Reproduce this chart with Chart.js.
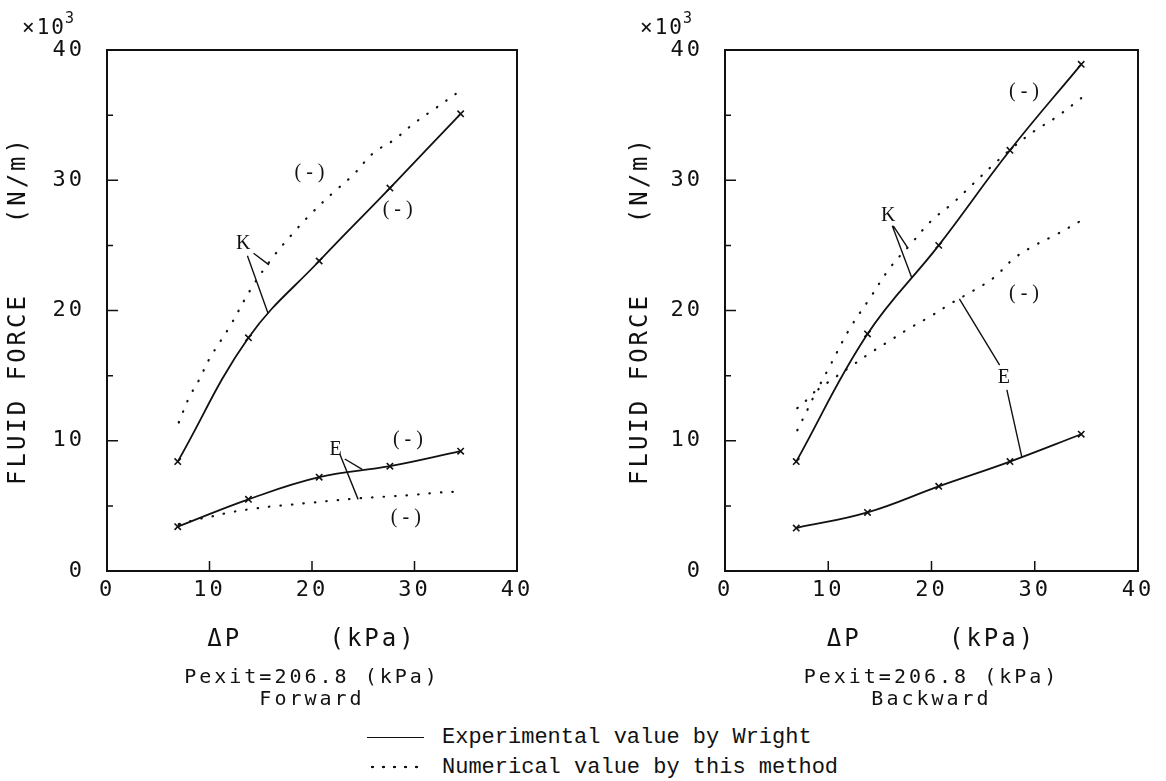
<!DOCTYPE html>
<html>
<head>
<meta charset="utf-8">
<script src="https://cdn.jsdelivr.net/npm/chart.js@4.4.1/dist/chart.umd.min.js"></script>
<style>
  html, body { margin: 0; padding: 0; background: #fff; }
  body { width: 1166px; height: 781px; position: relative; overflow: hidden; }
  canvas { position: absolute; top: 0; }
  #fwd { left: 0; }
  #bwd { left: 560px; }
  .row { position: absolute; left: 367px; height: 26px; line-height: 26px;
         font: 22px 'Liberation Mono', monospace; color: #111; white-space: nowrap; }
  .solid { display: inline-block; width: 57px; border-top: 1.8px solid #111;
           vertical-align: middle; margin-right: 18px; }
  .dots { display: inline-block; width: 57px; height: 4px; vertical-align: middle; margin-right: 18px;
          background-image: radial-gradient(circle, #111 1.1px, transparent 1.6px);
          background-size: 11px 4px; }
</style>
</head>
<body>
<canvas id="fwd" width="560" height="725"></canvas>
<canvas id="bwd" width="606" height="725"></canvas>
<div class="row" style="top:725px"><span class="solid"></span>Experimental value by Wright</div>
<div class="row" style="top:755px"><span class="dots"></span>Numerical value by this method</div>
<script>
// pressure difference (kPa) of Wright's measurements and of the computed curves
const dpExp = [6.9, 13.8, 20.7, 27.6, 34.5];
const dpNum = [7, 8, 9, 10, 12, 14, 16, 18, 20, 22, 24, 26, 28, 30, 32, 34.5];

// forward whirl (x10^3 N/m)
const kExpFwd = [8.4, 17.9, 23.8, 29.4, 35.1];
const eExpFwd = [3.4, 5.5, 7.2, 8.05, 9.2];
const kNumFwd = [11.4, 13.3, 14.7, 16.3, 18.8, 21.6, 23.9, 25.8, 27.5, 29.0, 30.4, 32.1, 33.1, 34.4, 35.5, 36.9];
const eNumFwd = [3.6, 3.8, 4.0, 4.15, 4.5, 4.75, 4.95, 5.1, 5.25, 5.4, 5.55, 5.65, 5.75, 5.85, 6.0, 6.1];

// backward whirl (x10^3 N/m)
const kExpBwd = [8.4, 18.2, 25.0, 32.3, 38.9];
const eExpBwd = [3.3, 4.5, 6.5, 8.4, 10.5];
const kNumBwd = [12.5, 13.2, 14.1, 15.5, 18.5, 20.9, 23.3, 25.1, 26.9, 28.2, 29.7, 31.2, 32.6, 33.8, 34.8, 36.3];
const eNumBwd = [10.8, 12.4, 13.9, 14.5, 15.6, 16.7, 17.7, 18.7, 19.6, 20.6, 21.5, 22.5, 24.0, 25.0, 25.8, 26.9];

// axis ticks
const forceTicks = [0, 5, 10, 15, 20, 25, 30, 35, 40];
const forceLabels = [0, 10, 20, 30, 40];
const dpTicks = [0, 10, 20, 30, 40];

// curve labels, in data units
const notesFwd = {
  texts: [
    { x: 20.0, y: 30.6, t: '(-)' }, { x: 28.6, y: 27.7, t: '(-)' },
    { x: 29.6, y: 10.1, t: '(-)' }, { x: 29.4, y: 4.1, t: '(-)' },
    { x: 13.3, y: 25.1, t: 'K' }, { x: 22.3, y: 9.3, t: 'E' }
  ],
  lines: [
    [14.3, 24.4, 15.8, 23.5], [13.7, 24.2, 15.7, 19.8],
    [23.2, 8.6, 24.9, 7.8], [22.7, 9.0, 24.5, 5.5]
  ]
};
const notesBwd = {
  texts: [
    { x: 29.2, y: 36.8, t: '(-)' }, { x: 29.2, y: 21.3, t: '(-)' },
    { x: 15.8, y: 27.3, t: 'K' }, { x: 27.0, y: 14.8, t: 'E' }
  ],
  lines: [
    [16.3, 26.5, 17.7, 24.8], [16.2, 26.5, 18.1, 22.5],
    [22.7, 20.9, 26.6, 15.8], [27.3, 13.9, 28.75, 8.75]
  ]
};

const INK = '#111';
Chart.defaults.font.family = "'DejaVu Sans Mono', monospace";
Chart.defaults.color = INK;

const pts = (xs, ys) => xs.map((x, i) => ({ x, y: ys[i] }));

function expSet(ys) {
  return {
    data: pts(dpExp, ys), borderColor: INK, borderWidth: 1.8,
    pointStyle: 'crossRot', pointRadius: 4.5, pointBorderWidth: 1.6, pointBorderColor: INK,
    tension: 0.4, fill: false
  };
}
function numSet(ys) {
  return {
    data: pts(dpNum, ys), borderColor: INK, borderWidth: 2.2,
    borderDash: [0.5, 11], borderCapStyle: 'round', pointRadius: 0,
    tension: 0.4, fill: false
  };
}

// box, inward ticks, x10^3 and curve labels
const framePlugin = {
  id: 'frame',
  beforeDraw(chart) {
    chart.ctx.letterSpacing = '3px';
  },
  beforeDatasetsDraw(chart) {
    const { ctx, chartArea: a, scales: { x, y } } = chart;
    ctx.save();
    ctx.strokeStyle = INK;
    ctx.lineWidth = 2;
    ctx.strokeRect(a.left, a.top, a.right - a.left, a.bottom - a.top);
    ctx.lineWidth = 1.5;
    ctx.beginPath();
    y.ticks.forEach(t => {
      const py = y.getPixelForValue(t.value);
      const len = forceLabels.includes(t.value) ? 11 : 6;
      ctx.moveTo(a.left, py); ctx.lineTo(a.left + len, py);
    });
    x.ticks.forEach(t => {
      if (t.value <= x.min || t.value >= x.max) return;
      const px = x.getPixelForValue(t.value);
      ctx.moveTo(px, a.bottom); ctx.lineTo(px, a.bottom - 10);
    });
    ctx.stroke();
    ctx.restore();
  },
  afterDraw(chart, args, opts) {
    const { ctx, chartArea: a, scales: { x, y } } = chart;
    ctx.save();
    ctx.fillStyle = INK;
    ctx.strokeStyle = INK;
    // exponent
    ctx.letterSpacing = '2px';
    ctx.textBaseline = 'middle';
    ctx.textAlign = 'left';
    ctx.font = "21px 'DejaVu Sans Mono'";
    const x0 = a.left - 85;
    ctx.fillText('×10', x0, a.top - 21);
    const w = ctx.measureText('×10').width;
    ctx.font = "15px 'DejaVu Sans Mono'";
    ctx.fillText('3', x0 + w - 1, a.top - 31);
    // curve labels
    ctx.textAlign = 'center';
    ctx.font = "20px 'Liberation Serif'";
    (opts.texts || []).forEach(n => {
      ctx.letterSpacing = n.t === '(-)' ? '5px' : '0px';
      ctx.fillText(n.t, x.getPixelForValue(n.x), y.getPixelForValue(n.y));
    });
    ctx.lineWidth = 1.4;
    ctx.beginPath();
    (opts.lines || []).forEach(l => {
      ctx.moveTo(x.getPixelForValue(l[0]), y.getPixelForValue(l[1]));
      ctx.lineTo(x.getPixelForValue(l[2]), y.getPixelForValue(l[3]));
    });
    ctx.stroke();
    ctx.restore();
  }
};

function makeChart(id, kExp, eExp, kNum, eNum, label, notes, pad, yWidth) {
  return new Chart(document.getElementById(id), {
    type: 'line',
    data: { datasets: [expSet(kExp), expSet(eExp), numSet(kNum), numSet(eNum)] },
    options: {
      responsive: false,
      animation: false,
      devicePixelRatio: 1,
      layout: { padding: pad },
      scales: {
        x: {
          type: 'linear', min: 0, max: 40,
          afterBuildTicks: s => { s.ticks = dpTicks.map(v => ({ value: v })); },
          afterFit: s => { s.height = 87; },
          grid: { display: false, drawTicks: false },
          border: { display: false },
          ticks: { padding: 6, font: { size: 22 }, autoSkip: false, maxRotation: 0 },
          title: { display: true, text: 'ΔP     (kPa)', font: { size: 24 }, padding: { top: 4, bottom: 4 } }
        },
        y: {
          type: 'linear', min: 0, max: 40,
          afterBuildTicks: s => { s.ticks = forceTicks.map(v => ({ value: v })); },
          afterFit: s => { s.width = yWidth; },
          grid: { display: false, drawTicks: false },
          border: { display: false },
          ticks: {
            padding: 22, font: { size: 22 }, autoSkip: false,
            callback: v => forceLabels.includes(v) ? String(v) : ''
          },
          title: { display: true, text: 'FLUID FORCE    (N/m)', font: { size: 24 }, padding: { top: 4, bottom: 4 } }
        }
      },
      plugins: {
        legend: { display: false },
        tooltip: { enabled: false },
        title: {
          display: true, text: 'Pexit=206.8 (kPa)', position: 'bottom', fullSize: false, weight: 1000,
          font: { size: 20, weight: 'normal', lineHeight: 1.1 }, padding: { top: 9, bottom: 0 }, color: INK
        },
        subtitle: {
          display: true, text: label, position: 'bottom', fullSize: false,
          font: { size: 20, weight: 'normal', lineHeight: 1.1 }, padding: { top: 0, bottom: 0 }, color: INK
        },
        frame: notes
      }
    },
    plugins: [framePlugin]
  });
}

makeChart('fwd', kExpFwd, eExpFwd, kNumFwd, eNumFwd, 'Forward', notesFwd,
  { top: 50, right: 43, bottom: 14, left: 0 }, 107);
makeChart('bwd', kExpBwd, eExpBwd, kNumBwd, eNumBwd, 'Backward', notesBwd,
  { top: 50, right: 28, bottom: 14, left: 62 }, 103);
</script>
</body>
</html>
